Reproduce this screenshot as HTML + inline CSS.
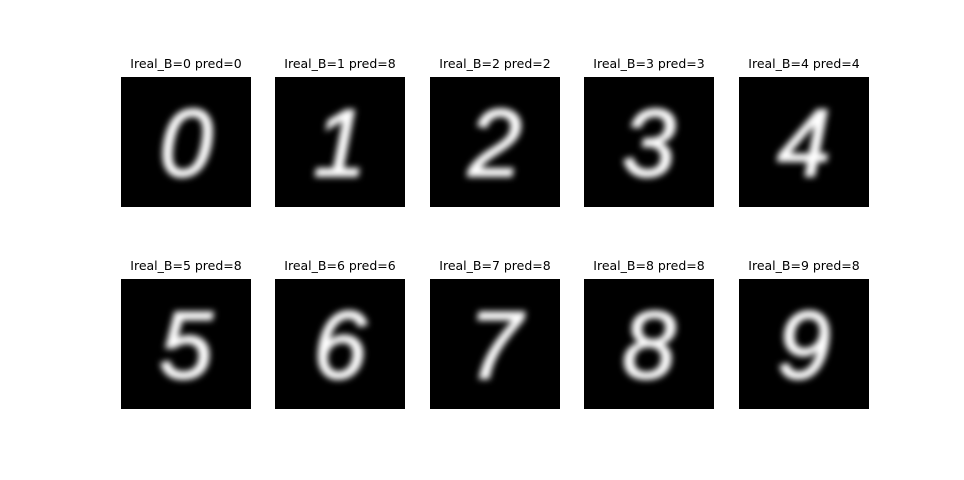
<!DOCTYPE html>
<html>
<head>
<meta charset="utf-8">
<style>
  html,body{margin:0;padding:0;background:#fff;}
  svg{display:block;}
  .title{font-family:"DejaVu Sans","Liberation Sans",sans-serif;font-size:12.5px;fill:#000;}
  .digit{font-family:"Liberation Sans",sans-serif;font-style:italic;font-size:96px;fill:#fff;stroke:#fff;stroke-width:2px;}
</style>
</head>
<body>
<svg id="chart" width="964" height="480" viewBox="0 0 964 480">
  <defs>
    <filter id="blur" x="-20%" y="-20%" width="140%" height="140%">
      <feGaussianBlur stdDeviation="3.2"/>
    </filter>
    <clipPath id="clipbox"><rect x="0" y="0" width="130" height="130"/></clipPath>
  </defs>
</svg>
<script>
const realLabels = [0,1,2,3,4,5,6,7,8,9];
const predLabels = [0,8,2,3,4,8,6,8,8,8];
const colX = [121,275,430,584,739];
const rowY = [77,279];
const size = 130;
const NS = "http://www.w3.org/2000/svg";
const svg = document.getElementById('chart');
realLabels.forEach((r,i)=>{
  const x = colX[i%5], y = rowY[Math.floor(i/5)];
  const g = document.createElementNS(NS,'g');
  g.setAttribute('transform',`translate(${x},${y})`);
  
  
  const rect = document.createElementNS(NS,'rect');
  rect.setAttribute('width',size);rect.setAttribute('height',size);rect.setAttribute('fill','#000');
  
  
  g.appendChild(rect);
  const gc = document.createElementNS(NS,'g');
  gc.setAttribute('clip-path','url(#clipbox)');
  const t = document.createElementNS(NS,'text');
  t.setAttribute('class','digit');
  t.setAttribute('x',size/2);t.setAttribute('y',size/2+34);
  t.setAttribute('text-anchor','middle');
  t.setAttribute('filter','url(#blur)');
  
  
  t.textContent = String(r);
  gc.appendChild(t);
  g.appendChild(gc);
  const title = document.createElementNS(NS,'text');
  title.setAttribute('class','title');
  title.setAttribute('x',size/2);title.setAttribute('y',-9);
  title.setAttribute('text-anchor','middle');
  
  
  title.textContent = `Ireal_B=${r} pred=${predLabels[i]}`;
  g.appendChild(title);
  svg.appendChild(g);
});
</script>
</body>
</html>
